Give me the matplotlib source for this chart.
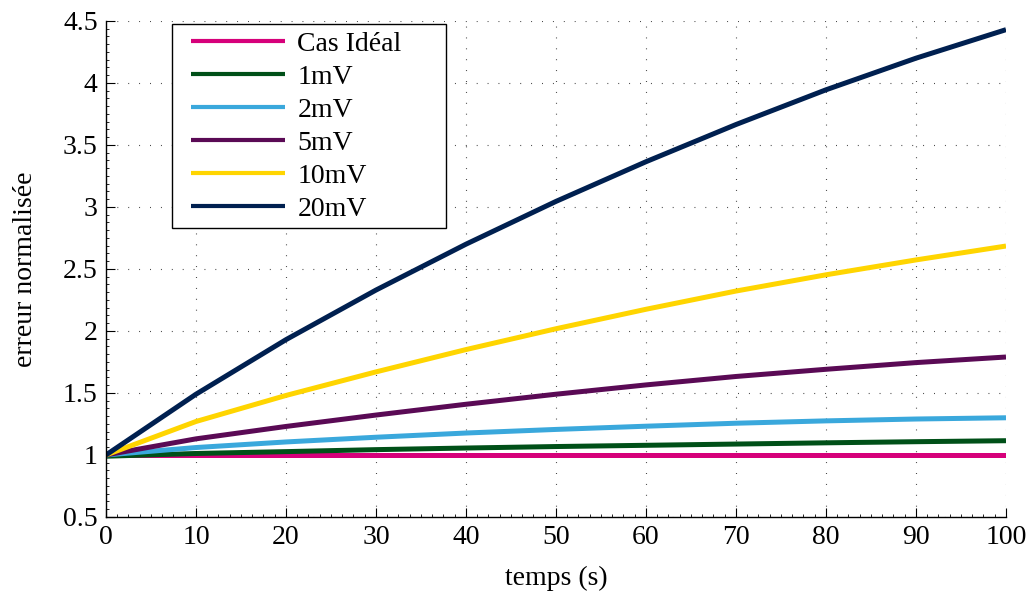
import matplotlib
matplotlib.use("Agg")
import matplotlib.pyplot as plt
from matplotlib.ticker import MultipleLocator
from matplotlib.patches import Rectangle

plt.rcParams['font.family'] = ['Liberation Serif', 'DejaVu Serif']

t = [0, 10, 20, 30, 40, 50, 60, 70, 80, 90, 100]
cas_ideal = [1.0, 1.0, 1.0, 1.0, 1.0, 1.0, 1.0, 1.0, 1.0, 1.0, 1.0]
mv1 = [0.99, 1.012, 1.027, 1.043, 1.056, 1.068, 1.078, 1.088, 1.098, 1.107, 1.115]
mv2 = [1.0, 1.06, 1.105, 1.143, 1.177, 1.206, 1.232, 1.256, 1.275, 1.29, 1.30]
mv5 = [1.0, 1.13, 1.23, 1.322, 1.409, 1.49, 1.565, 1.633, 1.691, 1.745, 1.79]
mv10 = [1.0, 1.27, 1.48, 1.67, 1.85, 2.018, 2.175, 2.322, 2.453, 2.573, 2.685]
mv20 = [1.0, 1.49, 1.93, 2.33, 2.70, 3.045, 3.365, 3.665, 3.945, 4.20, 4.43]

labels = ['Cas Idéal', '1mV', '2mV', '5mV', '10mV', '20mV']
colors = ['#D6007A', '#005018', '#3AA8DC', '#5A0A55', '#FFD500', '#002050']
series = [cas_ideal, mv1, mv2, mv5, mv10, mv20]

xticks = [0, 10, 20, 30, 40, 50, 60, 70, 80, 90, 100]
yticks = [0.5, 1, 1.5, 2, 2.5, 3, 3.5, 4, 4.5]
yticklabels = ['0.5', '1', '1.5', '2', '2.5', '3', '3.5', '4', '4.5']

fig = plt.figure(figsize=(10.32, 5.96), dpi=100)
ax = fig.add_axes([0.1027, 0.1326, 0.8721, 0.8322])

for s, lab, c in zip(series, labels, colors):
    ax.plot(t, s, color=c, lw=3.6, label=lab, solid_capstyle='butt',
            solid_joinstyle='round')

ax.set_xlim(0, 100)
ax.set_ylim(0.5, 4.5)
ax.set_xticks(xticks)
ax.set_yticks(yticks)
ax.set_yticklabels(yticklabels)
ax.xaxis.set_minor_locator(MultipleLocator(1.25))
ax.yaxis.set_minor_locator(MultipleLocator(0.0625))
ax.tick_params(which='major', direction='in', length=6.5, width=0.8, labelsize=20, pad=6)
ax.tick_params(which='minor', direction='in', length=2.2, width=0.6)
ax.tick_params(top=False, right=False)
for sp in ['top', 'right']:
    ax.spines[sp].set_visible(False)
for sp in ['left', 'bottom']:
    ax.spines[sp].set_linewidth(1.0)

ax.grid(True, which='major', color='#333333', lw=0.8, linestyle=(0, (0.8, 9)))

ax.set_xlabel('temps (s)', fontsize=20, labelpad=11)
ax.set_ylabel('erreur normalisée', fontsize=20, labelpad=18)

# legend frame drawn manually to match the reference box size
frame = Rectangle((0.0733, 0.5827), 0.3045, 0.4113, transform=ax.transAxes,
                  facecolor='white', edgecolor='black', lw=1.0, zorder=4.5,
                  clip_on=False)
ax.add_patch(frame)

leg = ax.legend(loc='upper left', bbox_to_anchor=(0.0852, 0.9956), fontsize=20,
                frameon=False, handlelength=3.4, handletextpad=0.43,
                labelspacing=0.27, borderpad=0.3, borderaxespad=0)
leg.set_zorder(5)
for h in leg.get_lines():
    h.set_linewidth(3.0)

fig.savefig('out.png', dpi=100)
